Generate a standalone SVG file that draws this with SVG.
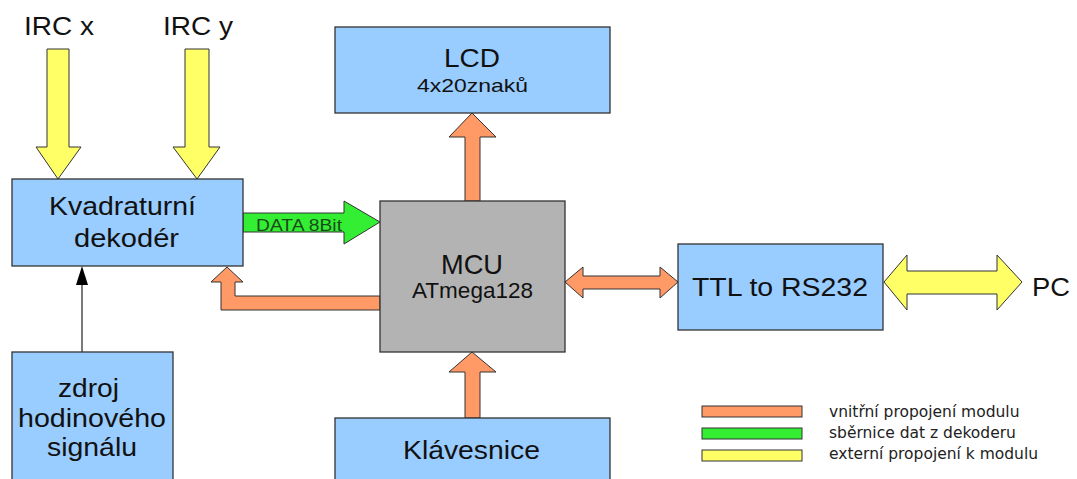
<svg xmlns="http://www.w3.org/2000/svg" width="1077" height="479" viewBox="0 0 1077 479">
  <style>
    .box { fill: #99ccff; stroke: #333333; stroke-width: 1.3; }
    .mcu { fill: #b3b3b3; stroke: #333333; stroke-width: 1.3; }
    .int { fill: #ff9966; stroke: #333333; stroke-width: 1; }
    .bus { fill: #33ee33; stroke: #333333; stroke-width: 1; }
    .ext { fill: #ffff66; stroke: #333333; stroke-width: 1; }
    text { font-family: "Liberation Sans", Arial, sans-serif; fill: #111111; }
    .t { font-size: 25px; }
    .lg { font-family: "DejaVu Sans", Verdana, sans-serif; font-size: 15.5px; fill: #222222; }
  </style>
  <rect width="1077" height="479" fill="#ffffff"/>

  <!-- connectors -->
  <g id="connectors">
    <!-- external inputs IRC x / IRC y -->
    <path class="ext" d="M47,49 H69 V147 H81 L58,179 L36,147 H47 Z"/>
    <path class="ext" d="M185,49 H209 V147 H220 L197,179 L173,147 H185 Z"/>
    <!-- clock signal -->
    <line x1="82" y1="352" x2="82" y2="284" stroke="#333333" stroke-width="1.3"/>
    <path d="M76,285 L82,266 L88,285 Z" fill="#000000"/>
    <!-- data bus decoder to MCU -->
    <path class="bus" d="M243,213 H344 V201 L380,222 L344,244 V232 H243 Z"/>
    <text x="256" y="231" textLength="86" lengthAdjust="spacingAndGlyphs" style="font-size:16px;fill:#1a4a1a">DATA 8Bit</text>
    <!-- MCU back to decoder -->
    <path class="int" d="M380,296 H235 V282 H243 L227,267 L211,282 H221 V310 H380 Z"/>
    <!-- MCU to LCD -->
    <path class="int" d="M465,201 V137 H449 L472,113 L496,137 H480 V201 Z"/>
    <!-- keyboard to MCU -->
    <path class="int" d="M465,418 V372 H449 L472,352 L496,372 H480 V418 Z"/>
    <!-- MCU to TTL/RS232 -->
    <path class="int" d="M565,282 L583,267 V276 H660 V267 L678,282 L660,298 V289 H583 V298 Z"/>
    <!-- RS232 to PC -->
    <path class="ext" d="M884,282 L907,255 V271 H997 V255 L1022,282 L997,310 V294 H907 V310 Z"/>
  </g>

  <g id="irc-labels">
    <text class="t" x="24" y="35" textLength="70" lengthAdjust="spacingAndGlyphs">IRC x</text>
    <text class="t" x="163" y="35" textLength="70" lengthAdjust="spacingAndGlyphs">IRC y</text>
  </g>

  <g id="decoder">
    <rect class="box" x="12" y="179" width="231" height="87"/>
    <text class="t" x="49" y="215" textLength="147" lengthAdjust="spacingAndGlyphs">Kvadraturní</text>
    <text class="t" x="74" y="247" textLength="105" lengthAdjust="spacingAndGlyphs">dekodér</text>
  </g>

  <g id="clock">
    <rect class="box" x="12" y="352" width="161" height="140"/>
    <text class="t" x="58" y="397" textLength="61" lengthAdjust="spacingAndGlyphs">zdroj</text>
    <text class="t" x="18" y="427" textLength="148" lengthAdjust="spacingAndGlyphs">hodinového</text>
    <text class="t" x="47" y="456" textLength="90" lengthAdjust="spacingAndGlyphs">signálu</text>
  </g>

  <g id="lcd">
    <rect class="box" x="335" y="27" width="275" height="86"/>
    <text class="t" x="444" y="67" textLength="56" lengthAdjust="spacingAndGlyphs">LCD</text>
    <text x="417" y="92" textLength="111" lengthAdjust="spacingAndGlyphs" style="font-size:18.6px">4x20znaků</text>
  </g>

  <g id="mcu">
    <rect class="mcu" x="380" y="201" width="185" height="151"/>
    <text x="441" y="274" textLength="62" lengthAdjust="spacingAndGlyphs" style="font-size:27.5px">MCU</text>
    <text x="412" y="298" textLength="121" lengthAdjust="spacingAndGlyphs" style="font-size:22px">ATmega128</text>
  </g>

  <g id="keyboard">
    <rect class="box" x="335" y="418" width="275" height="80"/>
    <text x="403" y="459" textLength="137" lengthAdjust="spacingAndGlyphs" style="font-size:26px">Klávesnice</text>
  </g>

  <g id="rs232">
    <rect class="box" x="678" y="244" width="205" height="86"/>
    <text x="692" y="296" textLength="176" lengthAdjust="spacingAndGlyphs" style="font-size:26px">TTL to RS232</text>
  </g>

  <g id="pc">
    <text x="1032" y="296" textLength="38" lengthAdjust="spacingAndGlyphs" style="font-size:26px">PC</text>
  </g>

  <g id="legend">
    <rect class="int" x="702" y="406" width="100" height="11"/>
    <rect class="bus" x="702" y="428" width="100" height="11"/>
    <rect class="ext" x="702" y="450" width="100" height="11"/>
    <text class="lg" x="829" y="417">vnitřní propojení modulu</text>
    <text class="lg" x="829" y="438">sběrnice dat z dekoderu</text>
    <text class="lg" x="829" y="459">externí propojení k modulu</text>
  </g>
</svg>
